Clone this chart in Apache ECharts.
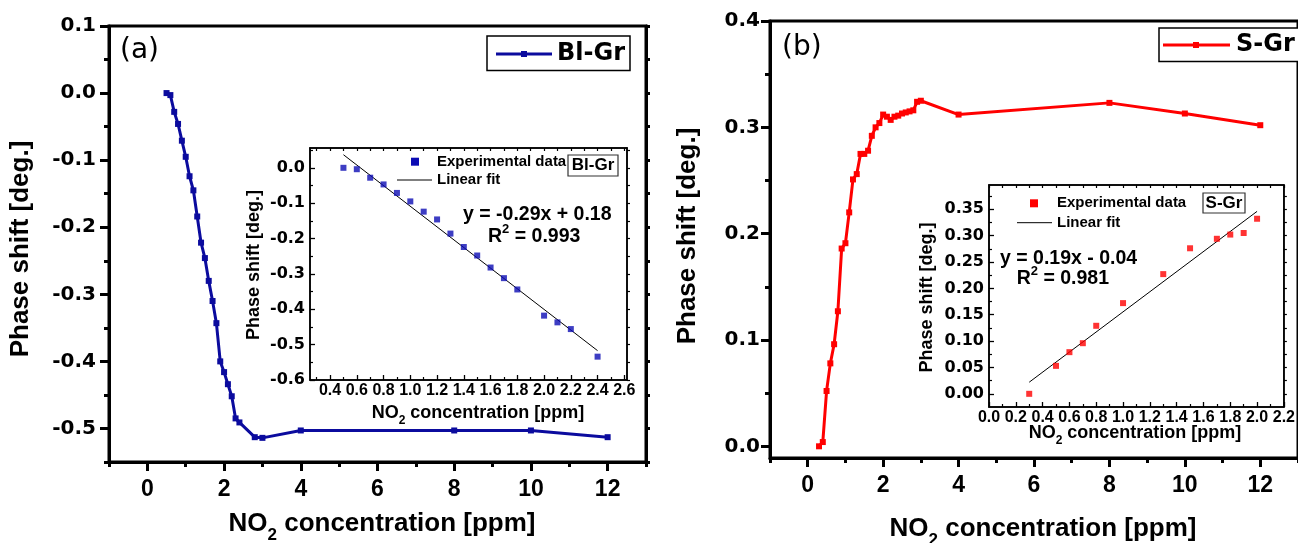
<!DOCTYPE html>
<html><head><meta charset="utf-8">
<script src="https://cdn.jsdelivr.net/npm/echarts@6/dist/echarts.min.js"></script>
<style>html,body{margin:0;padding:0;background:#fff}#c{width:1298px;height:543px}</style>
</head><body><div id="c"></div>
<script>
// ---------- Data ----------
const aX = [0.5,0.6,0.7,0.8,0.9,1.0,1.1,1.2,1.3,1.4,1.5,1.6,1.7,1.8,1.9,2.0,2.1,2.2,2.3,2.4,2.8,3.0,4,8,10,12];
const aY = [0,-0.003,-0.028,-0.046,-0.071,-0.095,-0.124,-0.145,-0.184,-0.223,-0.246,-0.280,-0.310,-0.343,-0.400,-0.416,-0.434,-0.452,-0.485,-0.491,-0.513,-0.514,-0.503,-0.503,-0.503,-0.513];

const aInX = [0.5,0.6,0.7,0.8,0.9,1.0,1.1,1.2,1.3,1.4,1.5,1.6,1.7,1.8,2.0,2.1,2.2,2.4];
const aInY = [0,-0.004,-0.028,-0.047,-0.071,-0.095,-0.124,-0.146,-0.186,-0.224,-0.248,-0.282,-0.312,-0.344,-0.418,-0.437,-0.456,-0.534];
const aFitX = [0.5, 2.4];
const aFitY = [0.037, -0.517];

const bX = [0.3,0.4,0.5,0.6,0.7,0.8,0.9,1.0,1.1,1.2,1.3,1.4,1.5,1.6,1.7,1.8,1.9,2.0,2.1,2.2,2.3,2.4,2.5,2.6,2.7,2.8,2.9,3.0,4,8,10,12];
const bY = [0,0.004,0.052,0.078,0.096,0.127,0.186,0.191,0.220,0.251,0.256,0.275,0.275,0.278,0.292,0.300,0.304,0.312,0.310,0.307,0.310,0.311,0.313,0.314,0.315,0.316,0.324,0.325,0.312,0.323,0.313,0.302];

const bInX = [0.3,0.5,0.6,0.7,0.8,1.0,1.3,1.5,1.7,1.8,1.9,2.0];
const bInY = [0,0.053,0.079,0.096,0.129,0.172,0.227,0.276,0.294,0.302,0.305,0.332];
const bFitX = [0.3, 2.0];
const bFitY = [0.022, 0.346];

// ---------- Tick labels ----------
const mainXTicks = [0,2,4,6,8,10,12];
const mainXMinor = [-1,1,3,5,7,9,11,13];
const aYTicks = [0.1,0,-0.1,-0.2,-0.3,-0.4,-0.5];
const aYMinor = [0.05,-0.05,-0.15,-0.25,-0.35,-0.45,-0.55];
const bYTicks = [0,0.1,0.2,0.3,0.4];
const bYMinor = [0.05,0.15,0.25,0.35];
const aInXTicks = [0.4,0.6,0.8,1.0,1.2,1.4,1.6,1.8,2.0,2.2,2.4,2.6];
const aInXMinor = [0.3,0.5,0.7,0.9,1.1,1.3,1.5,1.7,1.9,2.1,2.3,2.5];
const aInYTicks = [0,-0.1,-0.2,-0.3,-0.4,-0.5,-0.6];
const aInYMinor = [0.05,-0.05,-0.15,-0.25,-0.35,-0.45,-0.55];
const bInXTicks = [0,0.2,0.4,0.6,0.8,1.0,1.2,1.4,1.6,1.8,2.0,2.2];
const bInXMinor = [0.1,0.3,0.5,0.7,0.9,1.1,1.3,1.5,1.7,1.9,2.1];
const bInYTicks = [0,0.05,0.1,0.15,0.2,0.25,0.3,0.35];
const bInYMinor = [0.025,0.075,0.125,0.175,0.225,0.275,0.325,0.375];

// ---------- Styles ----------
const BLUE = '#0b0b9e';
const BLUE_PT = '#0c0cb4';
const RED = '#ff0000';
const FA = 'Liberation Sans';
const FD = 'DejaVu Sans';

function ax(o) {
  const base = {type:'value', splitLine:{show:false},
    axisLine:{show:false, onZero:false}, axisTick:{show:false}, axisLabel:{show:false}};
  return Object.assign(base, o);
}
function line(w){ return {show:true, onZero:false, lineStyle:{color:'#000', width:w}}; }
function ticks(vals, len, w, inside){ return {show:true, inside:!!inside, customValues:vals, length:len, lineStyle:{color:'#000', width:w}}; }
function labels(vals, fam, size, margin, fmt){
  return {show:true, customValues:vals, fontFamily:fam, fontWeight:'bold', fontSize:size, color:'#000', margin:margin, formatter:fmt};
}
const f1 = v => (+v).toFixed(1);
const f2 = v => (+v).toFixed(2);
const fi = v => String(Math.round(v));
const pairs = (xs, ys) => xs.map((x,i)=>[x, ys[i]]);

const xAxis = [
  // 0,1 main a
  ax({gridIndex:0, position:'bottom', min:-1, max:13, axisLine:line(3), axisTick:ticks(mainXTicks,9,3), axisLabel:labels(mainXTicks,FA,23,16,fi)}),
  ax({gridIndex:0, position:'bottom', min:-1, max:13, axisTick:ticks(mainXMinor,5,3)}),
  // 2,3 main b
  ax({gridIndex:1, position:'bottom', min:-1, max:13, axisLine:line(3), axisTick:ticks(mainXTicks,9,3), axisLabel:labels(mainXTicks,FA,23,16,fi)}),
  ax({gridIndex:1, position:'bottom', min:-1, max:13, axisTick:ticks(mainXMinor,5,3)}),
  // 4,5,6 inset a
  ax({gridIndex:2, position:'bottom', min:0.25, max:2.62, axisLine:line(1.5), axisTick:ticks(aInXTicks,5,1.3,true), axisLabel:labels(aInXTicks,FA,16,3,f1)}),
  ax({gridIndex:2, position:'bottom', min:0.25, max:2.62, axisTick:ticks(aInXMinor,3,1.2,true)}),
  ax({gridIndex:2, position:'top', min:0.25, max:2.62, axisLine:line(1.5), axisTick:ticks(aInXTicks.concat(aInXMinor),3,1.2,true)}),
  // 7,8,9 inset b
  ax({gridIndex:3, position:'bottom', min:0, max:2.2, axisLine:line(1.5), axisTick:ticks(bInXTicks,5,1.3,true), axisLabel:labels(bInXTicks,FA,16,3,f1)}),
  ax({gridIndex:3, position:'bottom', min:0, max:2.2, axisTick:ticks(bInXMinor,3,1.2,true)}),
  ax({gridIndex:3, position:'top', min:0, max:2.2, axisLine:line(1.5), axisTick:ticks(bInXTicks.concat(bInXMinor),3,1.2,true)})
];

const yAxis = [
  // 0,1,2 main a
  ax({gridIndex:0, position:'left', min:-0.55, max:0.1, axisLine:line(3), axisTick:ticks(aYTicks,9,3), axisLabel:labels(aYTicks,FD,20,13,f1)}),
  ax({gridIndex:0, position:'left', min:-0.55, max:0.1, axisTick:ticks(aYMinor,5,3)}),
  ax({gridIndex:0, position:'right', min:-0.55, max:0.1, axisLine:line(3), axisTick:ticks(aYTicks.concat(aYMinor),4,3)}),
  // 3,4 main b
  ax({gridIndex:1, position:'left', min:-0.011, max:0.4, axisLine:line(3), axisTick:ticks(bYTicks,9,3), axisLabel:labels(bYTicks,FD,20,10,f1)}),
  ax({gridIndex:1, position:'left', min:-0.011, max:0.4, axisTick:ticks(bYMinor,5,3)}),
  // 5,6,7 inset a
  ax({gridIndex:2, position:'left', min:-0.6, max:0.056, axisLine:line(1.5), axisTick:ticks(aInYTicks,5,1.3,true), axisLabel:labels(aInYTicks,FD,16,5,f1)}),
  ax({gridIndex:2, position:'left', min:-0.6, max:0.056, axisTick:ticks(aInYMinor,3,1.2,true)}),
  ax({gridIndex:2, position:'right', min:-0.6, max:0.056, axisLine:line(1.5), axisTick:ticks(aInYTicks.concat(aInYMinor),3,1.2,false)}),
  // 8,9,10 inset b
  ax({gridIndex:3, position:'left', min:-0.025, max:0.396, axisLine:line(1.5), axisTick:ticks(bInYTicks,5,1.3,true), axisLabel:labels(bInYTicks,FD,16,5,f2)}),
  ax({gridIndex:3, position:'left', min:-0.025, max:0.396, axisTick:ticks(bInYMinor,3,1.2,true)}),
  ax({gridIndex:3, position:'right', min:-0.025, max:0.396, axisLine:line(1.5), axisTick:ticks(bInYTicks.concat(bInYMinor),3,1.2,false)})
];

const grid = [
  {left:109, top:26, width:537, height:436, show:true, borderColor:'#000', borderWidth:3, backgroundColor:'transparent'},
  {left:770, top:21, width:537, height:437, show:true, borderColor:'#000', borderWidth:3, backgroundColor:'transparent'},
  {left:310, top:148, width:317, height:232, show:true, borderColor:'#000', borderWidth:1.5, backgroundColor:'#fff'},
  {left:989, top:185, width:297, height:222, show:true, borderColor:'#000', borderWidth:1.5, backgroundColor:'#fff'}
];

const series = [
  {type:'line', xAxisIndex:0, yAxisIndex:0, data:pairs(aX,aY), symbol:'rect', symbolSize:6, showSymbol:true,
   lineStyle:{color:BLUE, width:3}, itemStyle:{color:BLUE}, z:3},
  {type:'line', xAxisIndex:2, yAxisIndex:3, data:pairs(bX,bY), symbol:'rect', symbolSize:6, showSymbol:true,
   lineStyle:{color:RED, width:3}, itemStyle:{color:RED}, z:3},
  {type:'line', xAxisIndex:4, yAxisIndex:5, data:pairs(aFitX,aFitY), symbol:'none', lineStyle:{color:'#000', width:1}, z:4},
  {type:'scatter', xAxisIndex:4, yAxisIndex:5, data:pairs(aInX,aInY), symbol:'rect', symbolSize:6, itemStyle:{color:BLUE_PT}, z:5},
  {type:'line', xAxisIndex:7, yAxisIndex:8, data:pairs(bFitX,bFitY), symbol:'none', lineStyle:{color:'#000', width:1}, z:4},
  {type:'scatter', xAxisIndex:7, yAxisIndex:8, data:pairs(bInX,bInY), symbol:'rect', symbolSize:6, itemStyle:{color:RED}, z:5}
];

function txt(x, y, text, font, opts) {
  return Object.assign({type:'text', x:x, y:y, z:10,
    style:Object.assign({text:text, font:font, fill:'#000', align:'left', verticalAlign:'middle'}, (opts&&opts.style)||{})},
    (opts&&opts.el)||{});
}
function subTitle(x, y, size, subSize, lh) {
  return {type:'text', x:x, y:y, z:10, style:{
    text:'{a|NO}{s|2}{a| concentration [ppm]}', align:'center', verticalAlign:'middle', fill:'#000',
    rich:{
      a:{fontFamily:FA, fontWeight:'bold', fontSize:size, lineHeight:lh, verticalAlign:'middle', fill:'#000'},
      s:{fontFamily:FA, fontWeight:'bold', fontSize:subSize, lineHeight:subSize, verticalAlign:'bottom', fill:'#000'}
    }}};
}
function r2(x, y, val, size) {
  return {type:'text', x:x, y:y, z:10, style:{
    text:'{a|R}{s|2}{a| = ' + val + '}', align:'left', verticalAlign:'middle', fill:'#000',
    rich:{
      a:{fontFamily:FA, fontWeight:'bold', fontSize:size, lineHeight:size+8, verticalAlign:'middle', fill:'#000'},
      s:{fontFamily:FA, fontWeight:'bold', fontSize:13, lineHeight:13, verticalAlign:'top', fill:'#000'}
    }}};
}
const rot = Math.PI/2;

const graphic = [
  txt(120, 51, '(a)', '28px "DejaVu Sans"'),
  txt(782, 48, '(b)', '28px "DejaVu Sans"'),
  txt(21, 249, 'Phase shift [deg.]', 'bold 26px "Liberation Sans"', {style:{align:'center'}, el:{rotation:rot}}),
  txt(688, 236, 'Phase shift [deg.]', 'bold 26px "Liberation Sans"', {style:{align:'center'}, el:{rotation:rot}}),
  subTitle(382, 524, 26, 17, 40),
  subTitle(1043, 529, 26, 17, 40),
  // main legend a
  {type:'rect', z:10, shape:{x:487, y:36, width:143, height:34.5}, style:{fill:'#fff', stroke:'#000', lineWidth:1.5}},
  {type:'line', z:11, shape:{x1:496, y1:54, x2:552, y2:54}, style:{stroke:BLUE, lineWidth:3}},
  {type:'rect', z:12, shape:{x:521, y:51, width:6, height:6}, style:{fill:BLUE}},
  txt(557, 53.5, 'Bl-Gr', 'bold 24px "DejaVu Sans"', {el:{z:12}}),
  // main legend b
  {type:'rect', z:10, shape:{x:1159, y:28, width:160, height:33.5}, style:{fill:'#fff', stroke:'#000', lineWidth:1.5}},
  {type:'line', z:11, shape:{x1:1163, y1:45, x2:1230, y2:45}, style:{stroke:RED, lineWidth:3}},
  {type:'rect', z:12, shape:{x:1193, y:42, width:6, height:6}, style:{fill:RED}},
  txt(1236, 44.5, 'S-Gr', 'bold 24px "DejaVu Sans"', {el:{z:12}}),
  // inset a texts
  txt(254, 265, 'Phase shift [deg.]', 'bold 18px "Liberation Sans"', {style:{align:'center'}, el:{rotation:rot}}),
  subTitle(478, 413, 18, 12, 28),
  {type:'rect', z:10, shape:{x:411, y:157.7, width:8, height:8}, style:{fill:BLUE_PT}},
  txt(437, 161.7, 'Experimental data', 'bold 15px "Liberation Sans"'),
  {type:'line', z:10, shape:{x1:397, y1:180, x2:432, y2:180}, style:{stroke:'#000', lineWidth:1}},
  txt(437, 180, 'Linear fit', 'bold 15px "Liberation Sans"'),
  {type:'rect', z:10, shape:{x:568, y:155, width:50, height:21}, style:{fill:'#fff', stroke:'#333', lineWidth:1.2}},
  txt(593, 165.5, 'Bl-Gr', 'bold 17px "Liberation Sans"', {style:{align:'center'}, el:{z:11}}),
  txt(463, 215, 'y = -0.29x + 0.18', 'bold 19.5px "Liberation Sans"'),
  r2(488, 236.7, '0.993', 19.5),
  // inset b texts
  txt(927, 297.5, 'Phase shift [deg.]', 'bold 18px "Liberation Sans"', {style:{align:'center'}, el:{rotation:rot}}),
  subTitle(1135, 433, 18, 12, 28),
  {type:'rect', z:10, shape:{x:1030, y:199.3, width:8, height:8}, style:{fill:RED}},
  txt(1057, 203.3, 'Experimental data', 'bold 15px "Liberation Sans"'),
  {type:'line', z:10, shape:{x1:1017, y1:222.7, x2:1052, y2:222.7}, style:{stroke:'#000', lineWidth:1}},
  txt(1057, 222.7, 'Linear fit', 'bold 15px "Liberation Sans"'),
  {type:'rect', z:10, shape:{x:1203, y:193, width:42, height:20}, style:{fill:'#fff', stroke:'#333', lineWidth:1.2}},
  txt(1224, 203.3, 'S-Gr', 'bold 17px "Liberation Sans"', {style:{align:'center'}, el:{z:11}}),
  txt(1000, 259, 'y = 0.19x - 0.04', 'bold 19.5px "Liberation Sans"'),
  r2(1016.7, 278.3, '0.981', 19.5)
];

const chart = echarts.init(document.getElementById('c'), null, {renderer:'canvas'});
chart.setOption({animation:false, backgroundColor:'#fff', grid, xAxis, yAxis, series, graphic});
</script>
</body></html>
